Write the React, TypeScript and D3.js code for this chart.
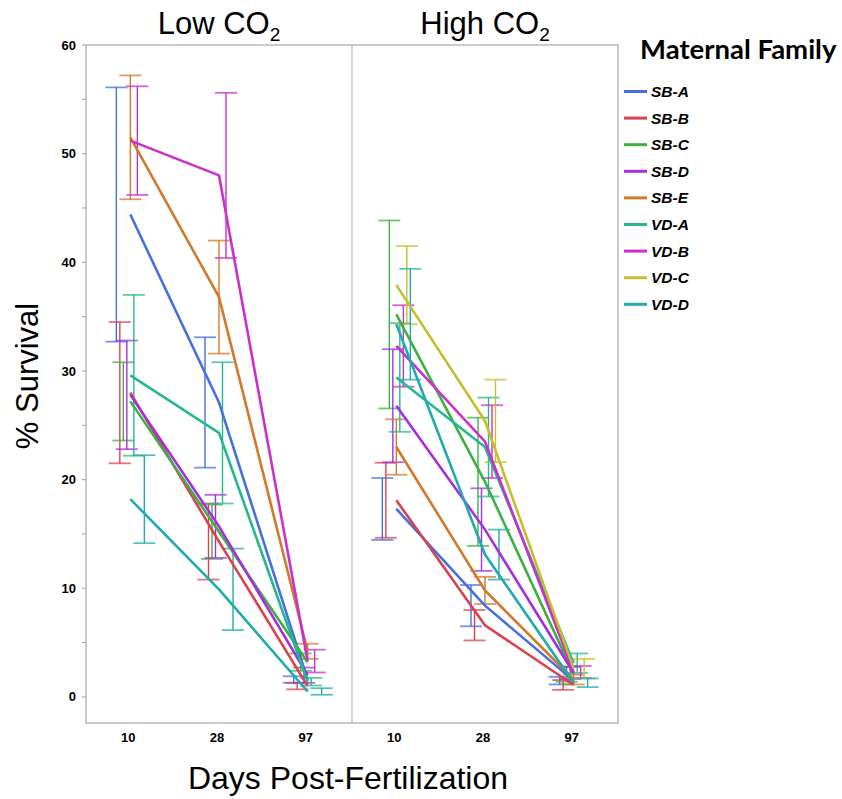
import * as d3 from 'd3'

// families, colours and the two CO2 treatments
const families = ['SB-A', 'SB-B', 'SB-C', 'SB-D', 'SB-E', 'VD-A', 'VD-B', 'VD-C', 'VD-D']
const familyColors = ['#4470e0', '#d8434f', '#3db043', '#a52fe0', '#d27a2b', '#25b890', '#cb2fcc', '#c6be2e', '#21abad']
const days = ['10', '28', '97']
const yTicks = [0, 10, 20, 30, 40, 50, 60]

// mean % survival per family, per day (null = no data)
const lowMeans = [
  [44.4, 27.1, 1.6],
  [28.0, 14.3, 1.0],
  [27.2, 15.2, 3.2],
  [27.8, 15.7, 2.0],
  [51.5, 36.8, 4.2],
  [29.6, 24.3, 1.4],
  [51.2, 48.0, 3.3],
  null,
  [18.2, 9.9, 0.5],
]
const lowErr = [
  [11.7, 6.0, 0.3],
  [6.5, 3.5, 0.3],
  [3.6, 2.5, 0.8],
  [5.0, 2.9, 0.7],
  [5.7, 5.2, 0.7],
  [7.4, 6.5, 0.35],
  [5.0, 7.6, 1.05],
  null,
  [4.05, 3.75, 0.3],
]
const highMeans = [
  [17.3, 8.4, 1.5],
  [18.1, 6.6, 1.1],
  [35.2, 19.8, 2.1],
  [26.8, 15.4, 2.2],
  [23.0, 9.8, 1.6],
  [29.4, 23.0, 3.1],
  [32.3, 23.5, 2.3],
  [37.9, 25.4, 2.6],
  [34.3, 13.1, 1.3],
]
const highErr = [
  [2.85, 1.9, 0.35],
  [3.45, 1.4, 0.45],
  [8.65, 5.9, 0.7],
  [5.2, 3.8, 0.55],
  [2.55, 1.25, 0.45],
  [5.0, 4.55, 0.9],
  [3.75, 3.35, 0.55],
  [3.6, 3.8, 0.9],
  [5.1, 2.3, 0.4],
]

const panels = [
  { label: 'Low CO', means: lowMeans, errs: lowErr },
  { label: 'High CO', means: highMeans, errs: highErr },
]

const font = 'Liberation Sans, Arial, Helvetica, sans-serif'

export default function App() {
  const left = 86
  const top = 45
  const bottom = 723
  const panelW = 266
  const dodge = 3.5
  const capW = 22

  const y = d3.scaleLinear().domain([-2.4, 60]).range([bottom, top])
  const x = d3.scalePoint<string>().domain(days).range([0, panelW]).padding(0.5)
  const line = d3.line<[number, number]>().x(d => d[0]).y(d => d[1])
  const minorTicks = d3.range(0, 61, 5)

  return (
    <svg width={842} height={799} style={{ display: 'block', position: 'absolute', left: 0, top: 0 }}>
      <rect width={842} height={799} fill='#fff' />

      {/* frame */}
      <rect x={left} y={top} width={panelW * 2} height={bottom - top} fill='none' stroke='#b0b0b0' strokeWidth={1.3} />
      <line x1={left + panelW} x2={left + panelW} y1={top} y2={bottom} stroke='#c4c4c4' strokeWidth={1.3} />

      {/* y axis */}
      {minorTicks.map(t => (
        <line key={'m' + t} x1={left - 4} x2={left} y1={y(t)} y2={y(t)} stroke='#aaa' strokeWidth={1.2} />
      ))}
      {yTicks.map(t => (
        <text key={t} x={left - 10} y={y(t)} dy='0.35em' textAnchor='end' fontFamily={font} fontWeight='bold' fontSize={13}>{t}</text>
      ))}

      {panels.map((p, pi) => {
        const x0 = left + pi * panelW
        return (
          <g key={p.label}>
            <text x={x0 + panelW / 2} y={34} textAnchor='middle' fontFamily={font} fontSize={31}>
              {p.label}<tspan fontSize={19} dy={7}>2</tspan>
            </text>
            {days.map(d => (
              <text key={d} x={x0 + (x(d) as number) - 2} y={742} textAnchor='middle' fontFamily={font} fontWeight='bold' fontSize={13}>{d}</text>
            ))}
            {/* error bars */}
            {p.means.map((m, fi) => m && m.map((v, di) => {
              const e = p.errs[fi]![di]
              const cx = x0 + (x(days[di]) as number) + (fi - 4) * dodge
              const c = familyColors[fi]
              return (
                <g key={fi + '-' + di} stroke={c} strokeWidth={1.4}>
                  <line x1={cx} x2={cx} y1={y(v + e)} y2={y(v - e)} />
                  <line x1={cx - capW / 2} x2={cx + capW / 2} y1={y(v + e)} y2={y(v + e)} strokeOpacity={0.75} strokeWidth={1.8} />
                  <line x1={cx - capW / 2} x2={cx + capW / 2} y1={y(v - e)} y2={y(v - e)} strokeOpacity={0.75} strokeWidth={1.8} />
                </g>
              )
            }))}
            {/* mean lines */}
            {p.means.map((m, fi) => m && (
              <path key={'l' + fi}
                d={line(m.map((v, di) => [x0 + (x(days[di]) as number), y(v)] as [number, number])) || ''}
                fill='none' stroke={familyColors[fi]} strokeWidth={2.6} />
            ))}
          </g>
        )
      })}

      {/* axis titles */}
      <text transform={`translate(38,${376}) rotate(-90)`} textAnchor='middle' fontFamily={font} fontSize={31}>% Survival</text>
      <text x={348} y={789} textAnchor='middle' fontFamily={font} fontSize={32}>Days Post-Fertilization</text>

      {/* legend */}
      <text x={640} y={59} fontFamily='Lato, Open Sans, sans-serif' fontWeight='bold' fontSize={27.5}>Maternal Family</text>
      {families.map((f, i) => {
        const ly = 91.5 + i * 26.6
        return (
          <g key={f}>
            <line x1={624} x2={647} y1={ly} y2={ly} stroke={familyColors[i]} strokeWidth={3} />
            <text x={651} y={ly} dy='0.36em' fontFamily={font} fontWeight='bold' fontStyle='italic' fontSize={15.5}>{f}</text>
          </g>
        )
      })}
    </svg>
  )
}
